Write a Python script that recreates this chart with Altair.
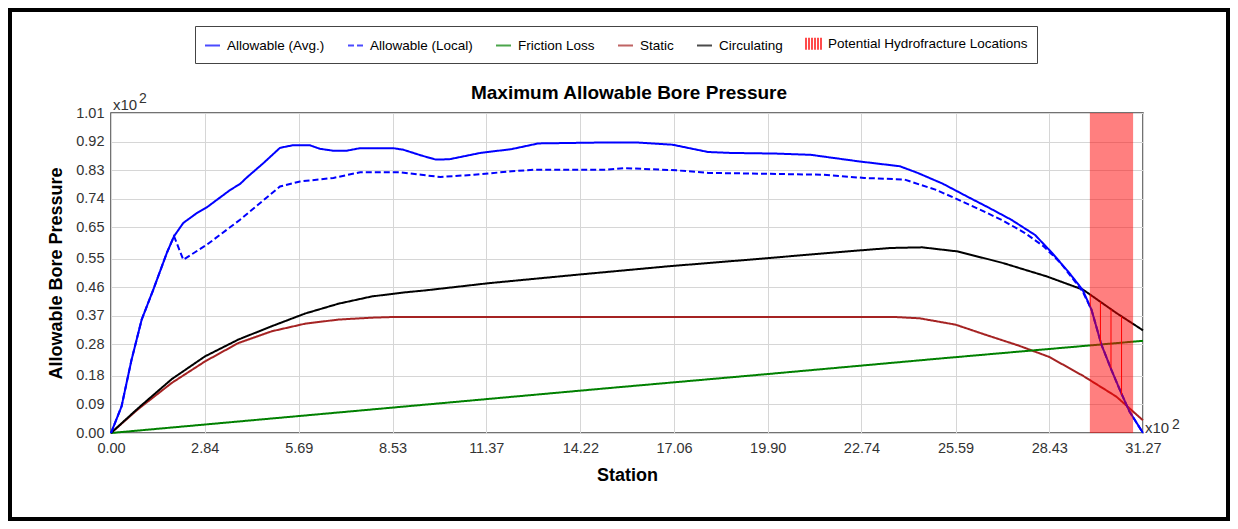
import altair as alt
import pandas as pd

# ---------------- data (both axes in units of x10^2) ----------------
avg_station = [0, 0.32, 0.62, 0.93, 1.28, 1.69, 1.91, 2.19, 2.60, 2.90, 3.61, 3.91, 4.11, 4.62, 5.12,
               5.50, 6.03, 6.33, 6.73, 7.14, 7.55, 8.55, 8.86, 9.40, 9.84, 10.25, 11.19, 12.14, 12.95, 14.98,
               15.93, 17.01, 18.09, 18.76, 20.12, 21.20, 22.68, 23.90, 24.44, 25.20, 25.93, 26.60, 27.28, 28.00,
               28.50, 29.00, 29.44, 29.71, 30.01, 30.31, 30.61, 30.86, 31.27]
avg_pressure = [0, 0.084, 0.23, 0.358, 0.452, 0.568, 0.621, 0.663, 0.694, 0.712, 0.767, 0.786, 0.806, 0.852, 0.900,
                0.908, 0.908, 0.897, 0.891, 0.891, 0.899, 0.899, 0.894, 0.876, 0.863, 0.864, 0.884, 0.896, 0.914, 0.917,
                0.917, 0.910, 0.887, 0.884, 0.882, 0.878, 0.857, 0.842, 0.821, 0.787, 0.747, 0.711, 0.673, 0.625,
                0.570, 0.510, 0.452, 0.389, 0.279, 0.200, 0.126, 0.068, 0.0]

local_station = [0, 0.32, 0.62, 0.93, 1.28, 1.69, 1.91, 2.19, 2.90, 3.91, 4.52, 5.12, 5.73, 6.74, 7.55,
                 8.76, 9.40, 9.98, 11.00, 12.14, 12.82, 14.98, 15.52, 17.14, 18.09, 19.98, 21.60, 22.82, 24.04, 24.98,
                 25.60, 26.33, 27.00, 27.68, 28.25, 28.77, 29.44, 29.71, 30.01, 30.31, 30.61, 30.86, 31.27]
local_pressure = [0, 0.084, 0.23, 0.358, 0.452, 0.568, 0.621, 0.547, 0.594, 0.673, 0.726, 0.778, 0.794, 0.805, 0.823,
                  0.823, 0.815, 0.808, 0.815, 0.826, 0.831, 0.831, 0.836, 0.829, 0.821, 0.818, 0.815, 0.805, 0.800, 0.768,
                  0.740, 0.705, 0.672, 0.632, 0.590, 0.537, 0.447, 0.389, 0.279, 0.200, 0.126, 0.068, 0.0]

friction_station = [0, 5.0, 10.0, 15.0, 20.0, 25.0, 31.27]
friction_pressure = [0, 0.047, 0.094, 0.141, 0.187, 0.234, 0.291]

static_station = [0, 0.83, 1.84, 2.85, 3.86, 4.87, 5.88, 6.89, 7.90, 8.51, 23.77, 24.50, 25.59, 26.50, 27.50,
                  28.43, 29.46, 30.46, 31.27]
static_pressure = [0, 0.076, 0.158, 0.226, 0.284, 0.321, 0.345, 0.358, 0.364, 0.366, 0.366, 0.362, 0.342, 0.310, 0.276,
                   0.240, 0.180, 0.115, 0.040]

circ_station = [0, 0.83, 1.84, 2.85, 3.86, 4.87, 5.88, 6.89, 7.90, 8.91, 9.52, 11.46, 14.17, 16.87, 19.57,
                22.28, 23.63, 24.58, 25.66, 27.01, 28.36, 29.46, 30.46, 31.27]
circ_pressure = [0, 0.079, 0.170, 0.242, 0.295, 0.337, 0.377, 0.408, 0.431, 0.444, 0.450, 0.473, 0.500, 0.526, 0.549,
                 0.573, 0.584, 0.586, 0.573, 0.537, 0.494, 0.452, 0.379, 0.324]

band_start = [29.66]
band_end = [30.97]

hatch_station = [29.67, 29.98, 30.30, 30.62]
hatch_bottom = [0.400, 0.280, 0.205, 0.121]
hatch_top = [0.437, 0.414, 0.391, 0.368]

x_ticks = [0.00, 2.84, 5.69, 8.53, 11.37, 14.22, 17.06, 19.90, 22.74, 25.59, 28.43, 31.27]
y_ticks = [0.00, 0.09, 0.18, 0.28, 0.37, 0.46, 0.55, 0.65, 0.74, 0.83, 0.92, 1.01]

series_names = ["Allowable (Avg.)", "Allowable (Local)", "Friction Loss", "Static", "Circulating",
                "Potential Hydrofracture Locations"]
series_colors = ["#0000ff", "#0000ff", "#008000", "#a52323", "#000000", "#ff0000"]
series_dashes = [[1, 0], [6, 3], [1, 0], [1, 0], [1, 0], [1, 0]]
legend_shapes = ["M-1,0H1"] * 5 + ["M-1,-0.8V0.8M-0.6,-0.8V0.8M-0.2,-0.8V0.8M0.2,-0.8V0.8M0.6,-0.8V0.8M1,-0.8V0.8"]

chart_title = "Maximum Allowable Bore Pressure"

FONT = "Liberation Sans"


def frame(name, xs, ys):
    return pd.DataFrame({"series": name, "station": xs, "pressure": ys, "order": list(range(len(xs)))})


lines_df = pd.concat([
    frame("Static", static_station, static_pressure),
    frame("Friction Loss", friction_station, friction_pressure),
    frame("Circulating", circ_station, circ_pressure),
    frame("Allowable (Local)", local_station, local_pressure),
    frame("Allowable (Avg.)", avg_station, avg_pressure),
], ignore_index=True)

band_df = pd.DataFrame({"start": band_start, "end": band_end})
hatch_df = pd.DataFrame({"series": "Potential Hydrofracture Locations", "station": hatch_station,
                         "pressure": hatch_bottom, "pressure_top": hatch_top})

x_scale = alt.Scale(domain=[0, 31.27], nice=False, zero=False)
y_scale = alt.Scale(domain=[0, 1.01], nice=False, zero=False)
color_scale = alt.Scale(domain=series_names, range=series_colors)
dash_scale = alt.Scale(domain=series_names, range=series_dashes)
shape_scale = alt.Scale(domain=series_names, range=legend_shapes)
leg = alt.Legend(title=None)

x_axis = alt.Axis(values=x_ticks, tickCount=len(x_ticks), format=".2f", title="Station", labelFlush=False,
                  labelOverlap=False, labelPadding=8, titlePadding=12)
y_axis = alt.Axis(values=y_ticks, tickCount=len(y_ticks), format=".2f", title="Allowable Bore Pressure",
                  labelFlush=False, labelOverlap=False, labelPadding=7, titlePadding=10)

legend_layer = alt.Chart(pd.DataFrame({"series": series_names})).transform_filter("false").mark_point(
    filled=False, strokeWidth=2
).encode(
    color=alt.Color("series:N", scale=color_scale, legend=leg),
    shape=alt.Shape("series:N", scale=shape_scale, legend=leg),
    strokeDash=alt.StrokeDash("series:N", scale=dash_scale, legend=leg),
)

lines = alt.Chart(lines_df).mark_line(strokeWidth=2).encode(
    x=alt.X("station:Q", scale=x_scale, axis=x_axis),
    y=alt.Y("pressure:Q", scale=y_scale, axis=y_axis),
    color=alt.Color("series:N", scale=color_scale, legend=leg),
    strokeDash=alt.StrokeDash("series:N", scale=dash_scale, legend=leg),
    order="order:Q",
)

band = alt.Chart(band_df).mark_rect(color="#ff0000", opacity=0.5).encode(
    x=alt.X("start:Q", scale=x_scale, axis=x_axis), x2="end:Q",
    y=alt.Y(datum=1.01, scale=y_scale, axis=y_axis), y2=alt.Y2(datum=0),
)

hatch = alt.Chart(hatch_df).mark_rule(strokeWidth=1).encode(
    x=alt.X("station:Q", scale=x_scale, axis=x_axis),
    y=alt.Y("pressure:Q", scale=y_scale, axis=y_axis), y2="pressure_top:Q",
    color=alt.Color("series:N", scale=color_scale, legend=leg),
)


def note(text, x, y, size, weight="normal", color="#333333", align="left"):
    return alt.Chart(pd.DataFrame({"t": [text]})).mark_text(
        align=align, baseline="alphabetic", font=FONT, fontSize=size, fontWeight=weight, color=color
    ).encode(text="t:N", x=alt.value(x), y=alt.value(y))


notes = [note(chart_title, 518, -14, 19, "bold", "black", "center"),
         note("x10", 2, -3, 15), note("2", 28, -10, 14),
         note("x10", 1034, 320, 15), note("2", 1061, 316, 14)]

border = alt.Chart(pd.DataFrame({"k": [0]})).mark_rect(
    filled=False, color="black", strokeWidth=8
).encode(x=alt.value(-103), x2=alt.value(1119), y=alt.value(-105), y2=alt.value(408))

chart = alt.layer(legend_layer, lines, band, hatch, *notes, border).properties(
    width=1032, height=320,
    padding={"left": 103, "top": 105, "right": 87, "bottom": 88},
    autosize=alt.AutoSizeParams(type="none"),
    background="white",
).configure_view(
    stroke="#444444", strokeWidth=1.5
).configure_axis(
    grid=True, gridColor="#d6d6d6", gridWidth=1, domain=False, ticks=False,
    labelFont=FONT, labelFontSize=14.5, labelColor="#333333",
    titleFont=FONT, titleFontSize=18, titleFontWeight="bold", titleColor="black",
).configure_legend(
    orient="none", legendX=84, legendY=-87, direction="horizontal", columns=6,
    labelFont=FONT, labelFontSize=13.5, labelColor="black", labelLimit=400,
    symbolSize=225, symbolStrokeWidth=2, labelOffset=6, columnPadding=19,
    padding=9, strokeColor="#444444", fillColor="white",
)

chart.save("out.html", embed_options={"renderer": "svg", "actions": False})
